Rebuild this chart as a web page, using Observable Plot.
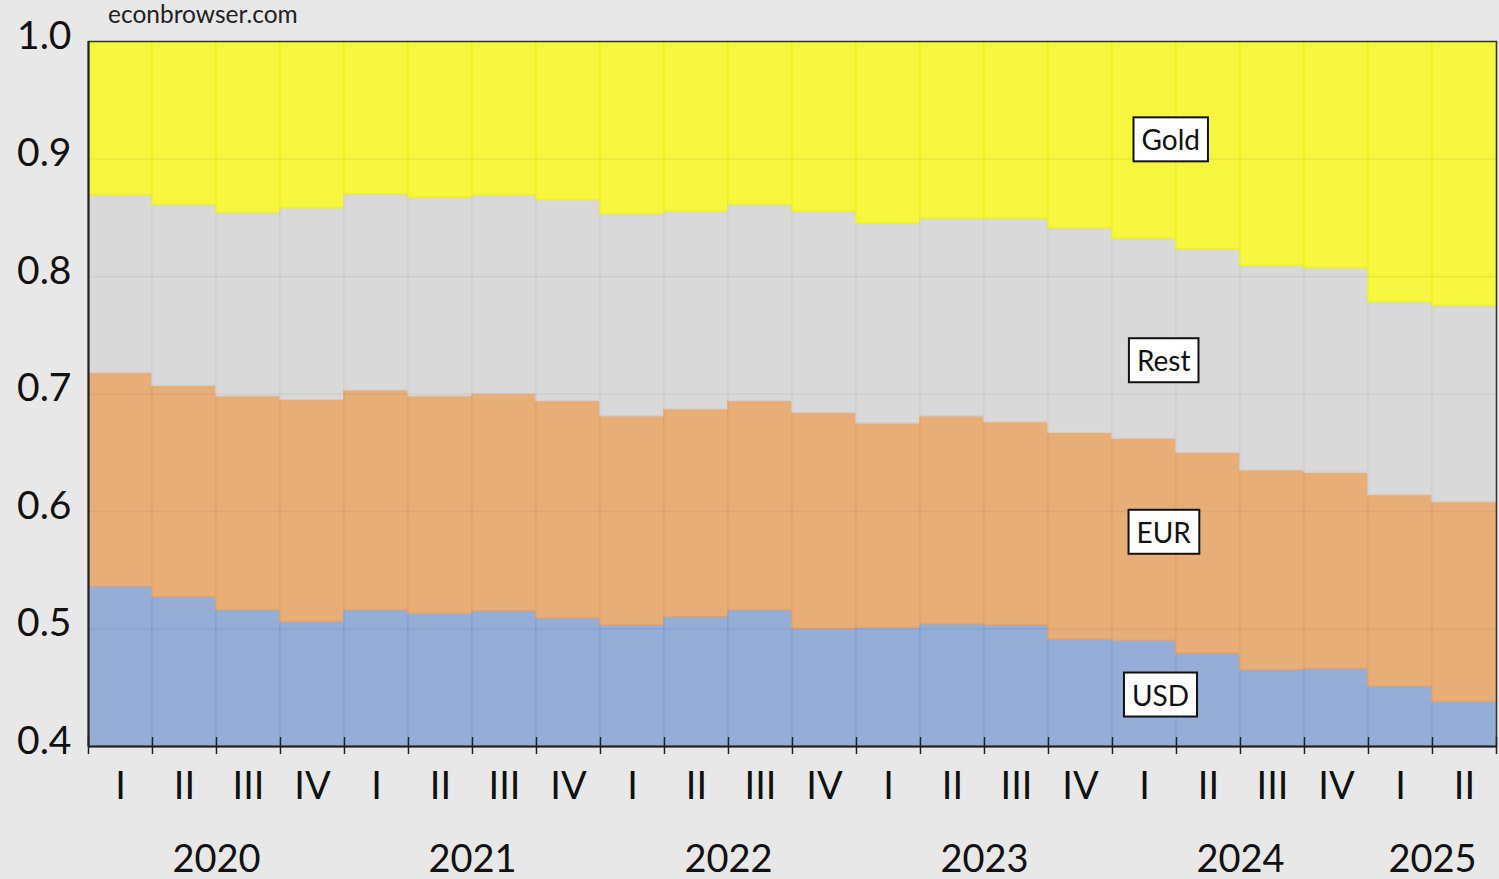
<!DOCTYPE html>
<html>
<head>
<meta charset="utf-8">
<script src="https://cdn.jsdelivr.net/npm/d3@7"></script>
<script src="https://cdn.jsdelivr.net/npm/@observablehq/plot@0.6"></script>
<style>
  html, body { margin: 0; padding: 0; background: #e8e8e8; }
  #wrap { position: relative; width: 1499px; height: 879px; overflow: hidden; }
  #src { position: absolute; left: 108px; top: 2px; font: 24.5px/1 Lato, "Open Sans", sans-serif; color: #222; }
</style>
</head>
<body>
<div id="wrap">
  <div id="chart"></div>
  <div id="src">econbrowser.com</div>
</div>
<script>
// ---- data ----
const quarterLabels = ["I","II","III","IV","I","II","III","IV","I","II","III","IV",
                       "I","II","III","IV","I","II","III","IV","I","II"];
const yearLabels = ["2020","2021","2022","2023","2024","2025"];
const yearQuarterCounts = [4,4,4,4,4,2];
const seriesNames = ["USD","EUR","Rest","Gold"];
// shares of reserves per quarter (2020Q1 .. 2025Q2)
const usd  = [0.536,0.527,0.516,0.506,0.516,0.513,0.515,0.509,0.503,0.510,0.516,0.500,
              0.501,0.504,0.503,0.491,0.490,0.479,0.465,0.466,0.451,0.438];
const eur  = [0.182,0.180,0.182,0.189,0.187,0.185,0.185,0.185,0.178,0.177,0.178,0.184,
              0.174,0.177,0.173,0.176,0.172,0.171,0.170,0.167,0.163,0.170];
const rest = [0.151,0.154,0.156,0.163,0.167,0.169,0.169,0.171,0.172,0.168,0.167,0.171,
              0.170,0.168,0.173,0.174,0.170,0.173,0.174,0.174,0.164,0.167];
const gold = [0.131,0.139,0.146,0.142,0.130,0.133,0.131,0.135,0.147,0.145,0.139,0.145,
              0.155,0.151,0.151,0.159,0.168,0.177,0.191,0.193,0.222,0.225];
const yTicks = [0.4,0.5,0.6,0.7,0.8,0.9,1.0];
// annotation boxes (in data units: quarter index, share)
const annotations = [
  {label: "Gold", x: 16.91, y: 0.915},
  {label: "Rest", x: 16.8,  y: 0.727},
  {label: "EUR",  x: 16.8,  y: 0.581},
  {label: "USD",  x: 16.75, y: 0.4425}
];

// ---- styles ----
const fillC = {USD: "#94aed8", EUR: "#e8ae78", Rest: "#d9d9d9", Gold: "#f6f63e"};
const edgeC = {USD: "#87a3d3", EUR: "#e4a266", Rest: "#d0d0d0", Gold: "#f0f020"};
const font = "Lato, 'Open Sans', sans-serif";

// ---- build stacked rows ----
const shares = [usd, eur, rest, gold];
const rows = [];
quarterLabels.forEach((q, i) => {
  let acc = 0;
  seriesNames.forEach((s, k) => {
    const v = shares[k][i];
    rows.push({i, series: s, y1: acc, y2: acc + v});
    acc += v;
  });
});
const quarters = quarterLabels.map((q, i) => ({i, q}));
let start = 0;
const years = yearLabels.map((y, k) => {
  const c = start + yearQuarterCounts[k] / 2;
  start += yearQuarterCounts[k];
  return {year: y, c};
});
const boundaries = d3.range(0, quarterLabels.length + 1);

const chart = Plot.plot({
  width: 1499,
  height: 879,
  marginLeft: 88,
  marginRight: 3,
  marginTop: 41,
  marginBottom: 133,
  style: {background: "#e8e8e8", fontFamily: font, overflow: "visible"},
  x: {domain: [0, quarterLabels.length], axis: null},
  y: {domain: [0.4, 1.0], axis: null},
  color: {type: "identity"},
  marks: [
    Plot.rect(rows, {
      x1: "i", x2: d => d.i + 1, y1: "y1", y2: "y2",
      fill: d => fillC[d.series], stroke: d => edgeC[d.series],
      strokeWidth: 1.5, clip: true
    }),
    Plot.ruleY(yTicks.slice(1, -1), {stroke: "#000", strokeOpacity: 0.05, strokeWidth: 1.5}),
    Plot.frame({stroke: "#333", strokeWidth: 1.5}),
    Plot.ruleX([0], {stroke: "#222", strokeWidth: 2}),
    Plot.ruleY([0.4], {stroke: "#222", strokeWidth: 2}),
    Plot.ruleX(boundaries, {x: d => d, y1: 0.4, y2: 0.4, insetTop: 8, insetBottom: 9, stroke: "#222", strokeWidth: 1.5}),
    Plot.text(yTicks, {x: 0, y: d => d, text: d => d.toFixed(1), textAnchor: "end", dx: -17, dy: -5,
      fontSize: 39, fill: "#111", fontFamily: font}),
    Plot.text(quarters, {x: d => d.i + 0.5, y: 0.4, text: "q", dy: 40, fontSize: 38, fill: "#111", fontFamily: font}),
    Plot.text(years, {x: "c", y: 0.4, text: "year", dy: 113, fontSize: 38, fill: "#111", fontFamily: font}),
    Plot.text(annotations, {x: "x", y: "y", text: "label", fontSize: 28, fill: "#111", fontFamily: font})
  ]
});
document.getElementById("chart").appendChild(chart);

// draw white boxes behind annotation labels
const labelSet = new Set(annotations.map(a => a.label));
chart.querySelectorAll("text").forEach(t => {
  if (!labelSet.has(t.textContent)) return;
  const b = t.getBBox();
  const r = document.createElementNS("http://www.w3.org/2000/svg", "rect");
  const padX = 8, padY = 6;
  r.setAttribute("x", b.x - padX);
  r.setAttribute("y", b.y - padY + 1);
  r.setAttribute("width", b.width + 2 * padX);
  r.setAttribute("height", b.height + 2 * padY - 2);
  r.setAttribute("fill", "#fff");
  r.setAttribute("stroke", "#111");
  r.setAttribute("stroke-width", "2");
  const tr = t.getAttribute("transform");
  if (tr) r.setAttribute("transform", tr);
  t.parentNode.insertBefore(r, t);
});
</script>
</body>
</html>
